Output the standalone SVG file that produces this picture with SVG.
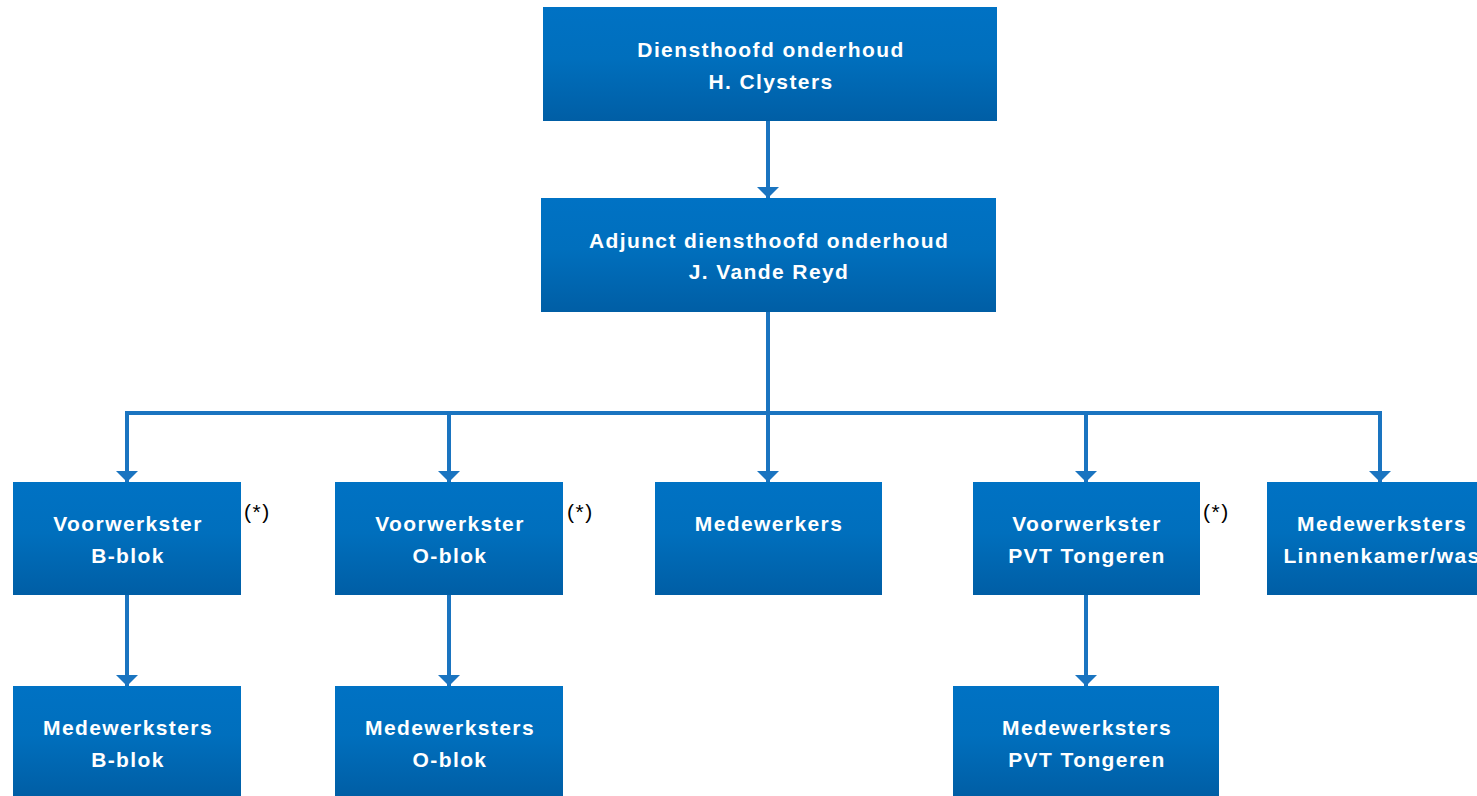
<svg xmlns="http://www.w3.org/2000/svg" width="1477" height="796" viewBox="0 0 1477 796">
<defs>
<linearGradient id="g" x1="0" y1="0" x2="0" y2="1">
<stop offset="0" stop-color="#0072c4"/>
<stop offset="0.45" stop-color="#006fbd"/>
<stop offset="1" stop-color="#005ea5"/>
</linearGradient>
<marker id="arr" viewBox="0 0 10 20" refX="10" refY="10" markerWidth="2.75" markerHeight="5.5" markerUnits="strokeWidth" orient="auto">
<path d="M0,0 L10,10 L0,20 z" fill="#1a74c0"/>
</marker>
<style>
.box{fill:url(#g);}
.t{font-family:"Liberation Sans",Arial,sans-serif;font-weight:bold;font-size:21px;fill:#ffffff;text-anchor:middle;letter-spacing:1.4px;}
.n{font-family:"Liberation Sans",Arial,sans-serif;font-size:21px;fill:#000000;letter-spacing:1.5px;}
.c{fill:none;stroke:#1a74c0;stroke-width:4;}
</style>
</defs>
<rect width="1477" height="796" fill="#ffffff"/>
<g id="connectors">
<path class="c" d="M768,121 V198" marker-end="url(#arr)"/>
<path class="c" d="M768,312 V482" marker-end="url(#arr)"/>
<path class="c" d="M127,482 V413 H1380 V482" marker-end="url(#arr)"/>
<path class="c" d="M127,413 V482" marker-end="url(#arr)"/>
<path class="c" d="M449,413 V482" marker-end="url(#arr)"/>
<path class="c" d="M1086,413 V482" marker-end="url(#arr)"/>
<path class="c" d="M127,595 V686" marker-end="url(#arr)"/>
<path class="c" d="M449,595 V686" marker-end="url(#arr)"/>
<path class="c" d="M1086,595 V686" marker-end="url(#arr)"/>
</g>
<g id="n-diensthoofd">
<rect class="box" x="543" y="7" width="454" height="114"/>
<text class="t" x="771" y="57">Diensthoofd onderhoud</text>
<text class="t" x="771" y="89">H. Clysters</text>
</g>
<g id="n-adjunct">
<rect class="box" x="541" y="198" width="455" height="114"/>
<text class="t" x="769" y="248">Adjunct diensthoofd onderhoud</text>
<text class="t" x="769" y="279">J. Vande Reyd</text>
</g>
<g id="n-voorwerkster-b">
<rect class="box" x="13" y="482" width="228" height="113"/>
<text class="t" x="128" y="531">Voorwerkster</text>
<text class="t" x="128" y="563">B-blok</text>
<text class="n" x="244" y="519">(*)</text>
</g>
<g id="n-voorwerkster-o">
<rect class="box" x="335" y="482" width="228" height="113"/>
<text class="t" x="450" y="531">Voorwerkster</text>
<text class="t" x="450" y="563">O-blok</text>
<text class="n" x="567" y="519">(*)</text>
</g>
<g id="n-medewerkers">
<rect class="box" x="655" y="482" width="227" height="113"/>
<text class="t" x="769" y="531">Medewerkers</text>
</g>
<g id="n-voorwerkster-pvt">
<rect class="box" x="973" y="482" width="227" height="113"/>
<text class="t" x="1087" y="531">Voorwerkster</text>
<text class="t" x="1087" y="563">PVT Tongeren</text>
<text class="n" x="1203" y="519">(*)</text>
</g>
<g id="n-linnenkamer">
<rect class="box" x="1267" y="482" width="228" height="113"/>
<text class="t" x="1382" y="531">Medewerksters</text>
<text class="t" x="1382" y="563">Linnenkamer/was</text>
</g>
<g id="n-medewerksters-b">
<rect class="box" x="13" y="686" width="228" height="110"/>
<text class="t" x="128" y="735">Medewerksters</text>
<text class="t" x="128" y="767">B-blok</text>
</g>
<g id="n-medewerksters-o">
<rect class="box" x="335" y="686" width="228" height="110"/>
<text class="t" x="450" y="735">Medewerksters</text>
<text class="t" x="450" y="767">O-blok</text>
</g>
<g id="n-medewerksters-pvt">
<rect class="box" x="953" y="686" width="266" height="110"/>
<text class="t" x="1087" y="735">Medewerksters</text>
<text class="t" x="1087" y="767">PVT Tongeren</text>
</g>
</svg>
